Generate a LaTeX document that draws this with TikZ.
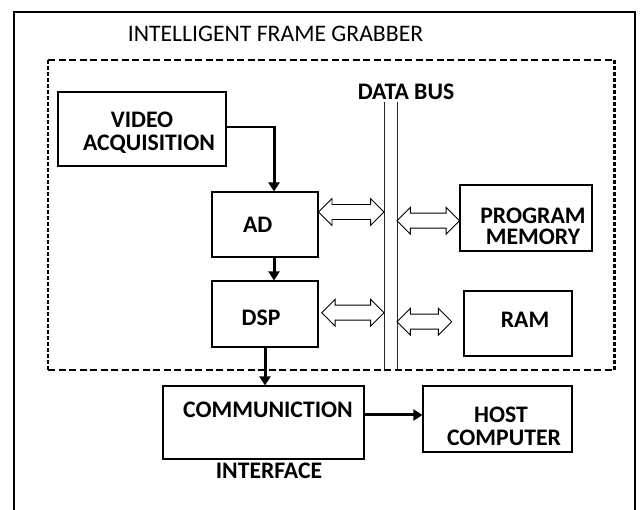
\documentclass[tikz,border=0pt]{standalone}
\usepackage{fontspec}
\setmainfont{Carlito}
\usetikzlibrary{arrows.meta,calc}
\newcommand\dblarr[2]{\draw[dblarrow] let \p1=#1, \p2=#2 in
  (\x1,\y1) -- (\x1+13.4pt,\y1+13.4pt) -- (\x1+13.4pt,\y1+7.5pt) -- (\x2-13.4pt,\y1+7.5pt)
  -- (\x2-13.4pt,\y1+13.4pt) -- (\x2,\y1) -- (\x2-13.4pt,\y1-13.4pt) -- (\x2-13.4pt,\y1-7.5pt)
  -- (\x1+13.4pt,\y1-7.5pt) -- (\x1+13.4pt,\y1-13.4pt) -- cycle;}
\tikzset{
  box/.style={draw, line width=1.1pt, inner sep=0pt},
  lbl/.style={inner sep=0pt, text depth=0pt, align=center,
    font=\fontsize{23.7}{22.5}\selectfont\bfseries},
  ttl/.style={inner sep=0pt, text depth=0pt, font=\fontsize{23.7}{22.5}\selectfont},
  arr/.style={line width=3pt, -{Triangle[width=11pt,length=9pt]}},
  dblarrow/.style={draw, line width=0.9pt, fill=white, line join=miter},
  frame/.style={line width=2.2pt},
  dashH/.style={line width=2.3pt, dash pattern=on 7pt off 3.5pt},
  dashV/.style={line width=2.3pt, dash pattern=on 4pt off 2pt},
  bus/.style={line width=1pt, draw=black!85}
}
\begin{document}
\begin{tikzpicture}[x=1pt,y=-1pt]
\useasboundingbox (0,0) rectangle (640,510);
% outer frame
\coordinate (fbl) at (14,511);
\coordinate (ftl) at (14,12);
\coordinate (ftr) at (635,12);
\coordinate (fbr) at (635,511);
\draw[frame] (fbl) -- (ftl) -- (ftr) -- (fbr);
% dashed region
\coordinate (dtl) at (48,60);
\coordinate (dtr) at (614.5,60);
\coordinate (dbl) at (48,370);
\coordinate (dbr) at (614.5,370);
\draw[dashH] (dtl) -- (dtr);
\draw[dashH] (dbl) -- (dbr);
\draw[dashV] (dtl) -- (dbl);
\draw[dashV] (dtr) -- (dbr);
% titles
\node[ttl] (title) at (275.5,34) {INTELLIGENT FRAME GRABBER};
\node[lbl] (databus) at (406,92) {DATA BUS};
% bus
\coordinate (busLt) at (384,102);
\coordinate (busLb) at (384,370);
\coordinate (busRt) at (397,102);
\coordinate (busRb) at (397,370);
\draw[bus] (busLt) -- (busLb);
\draw[bus] (busRt) -- (busRb);
% boxes
\node[box, minimum width=168pt, minimum height=74pt] (video) at (142,129) {};
\node[box, minimum width=106pt, minimum height=65pt] (ad) at (265,224.5) {};
\node[box, minimum width=106pt, minimum height=66pt] (dsp) at (265,314) {};
\node[box, minimum width=132pt, minimum height=66pt] (pm) at (526,218) {};
\node[box, minimum width=108pt, minimum height=65pt] (ram) at (518,323.5) {};
\node[box, minimum width=201pt, minimum height=73pt] (comm) at (263.5,422.5) {};
\node[box, minimum width=149pt, minimum height=66pt] (host) at (497.5,419) {};
% texts
\node[lbl] (videot) at (149,131) {VIDEO\hspace*{14pt}\\ACQUISITION};
\node[lbl] (adt) at (257.7,224.7) {AD};
\node[lbl] (dspt) at (261,318) {DSP};
\node[lbl, font=\fontsize{23.7}{21.5}\selectfont\bfseries] (pmt) at (533,226.3) {PROGRAM\\MEMORY};
\node[lbl] (ramt) at (525,320) {RAM};
\node[lbl] (commt) at (268,409.5) {COMMUNICTION};
\node[lbl] (interfacet) at (269,470.5) {INTERFACE};
\node[lbl] (hostt) at (504,426.2) {HOST\hspace*{6pt}\\COMPUTER};
% connectors
\coordinate (vturn) at (274,127);
\draw[line width=1.2pt] (video.east |- vturn) -- (vturn);
\draw[arr] ([yshift=0.6pt]vturn) -- (vturn |- ad.north);
\draw[arr] (ad.south -| vturn) -- (dsp.north -| vturn);
\draw[arr] (dsp.south) -- (dsp.south |- comm.north);
\coordinate (ch) at (0,415);
\draw[arr] (comm.east |- ch) -- (host.west |- ch);
% double arrows
\dblarr{(ad.east |- 0,212)}{(busLt |- 0,212)}
\dblarr{(busRt |- 0,220.7)}{(pm.west |- 0,220.7)}
\dblarr{(321.7,312.7)}{(busLt |- 0,312.7)}
\dblarr{(busRt |- 0,321.7)}{(451.7,321.7)}
\end{tikzpicture}
\end{document}
